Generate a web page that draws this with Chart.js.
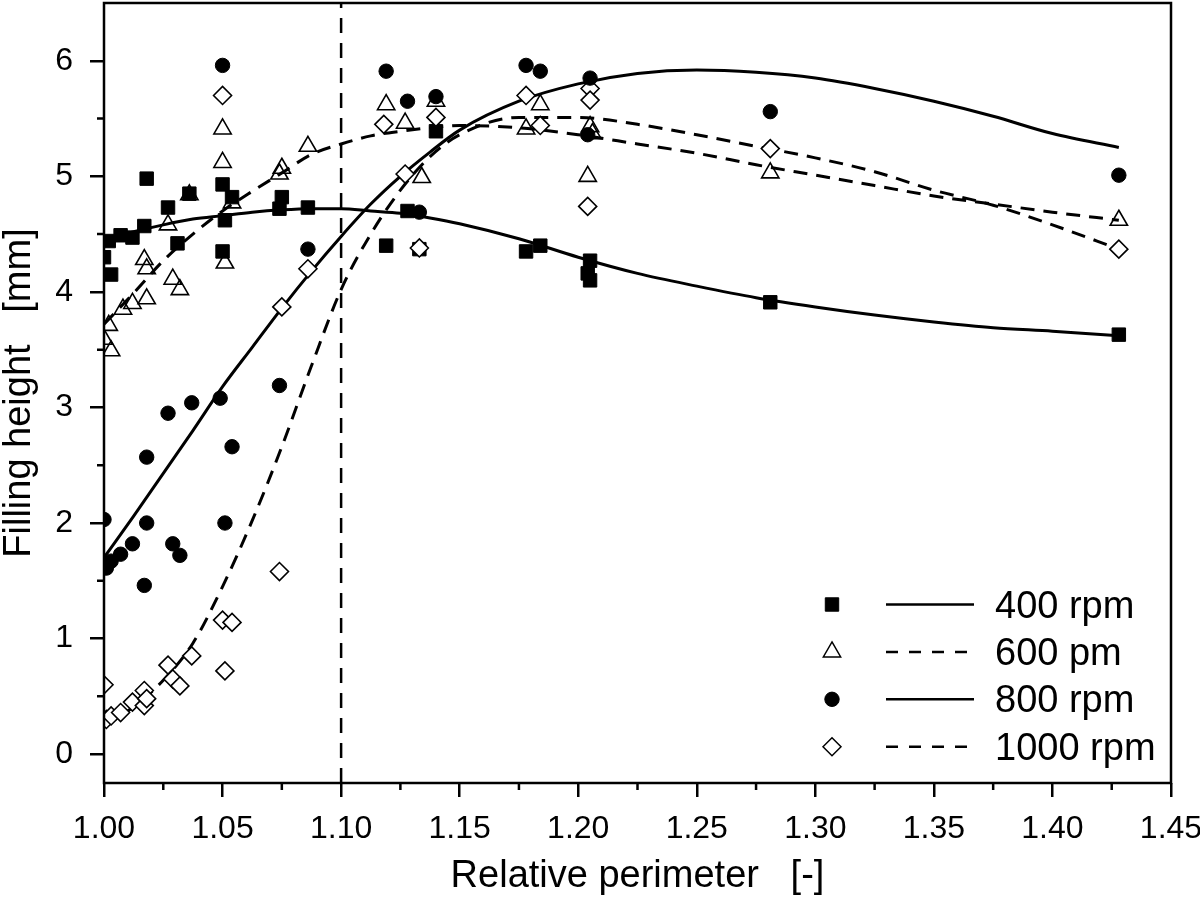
<!DOCTYPE html>
<html>
<head>
<meta charset="utf-8">
<script src="https://cdn.jsdelivr.net/npm/chart.js@4.4.1/dist/chart.umd.min.js"></script>
<style>
  html, body { margin: 0; padding: 0; background: #fff; }
  #chart { display: block; }
</style>
</head>
<body>
<canvas id="chart" width="1200" height="911"></canvas>
<script>
// measured filling heights [mm] against relative perimeter [-]
const rpm400X = [1.000, 1.002, 1.003, 1.007, 1.012, 1.017, 1.018, 1.027, 1.031, 1.036, 1.050, 1.050, 1.051, 1.054, 1.074, 1.075, 1.086, 1.119, 1.128, 1.133, 1.140, 1.178, 1.184, 1.204, 1.205, 1.205, 1.281, 1.428];
const rpm400Y = [4.30, 4.44, 4.15, 4.49, 4.47, 4.57, 4.98, 4.73, 4.42, 4.85, 4.93, 4.35, 4.62, 4.82, 4.72, 4.82, 4.73, 4.40, 4.70, 4.37, 5.39, 4.35, 4.40, 4.16, 4.27, 4.10, 3.91, 3.63];

const rpm600X = [1.000, 1.002, 1.003, 1.008, 1.012, 1.017, 1.018, 1.018, 1.027, 1.029, 1.032, 1.036, 1.050, 1.050, 1.051, 1.054, 1.074, 1.075, 1.086, 1.119, 1.127, 1.134, 1.140, 1.178, 1.184, 1.204, 1.205, 1.206, 1.281, 1.428];
const rpm600Y = [3.59, 3.71, 3.49, 3.85, 3.90, 4.28, 4.20, 3.94, 4.58, 4.11, 4.02, 4.84, 5.41, 5.12, 4.25, 4.77, 5.02, 5.07, 5.26, 5.62, 5.46, 4.99, 5.65, 5.41, 5.62, 5.00, 5.43, 5.37, 5.03, 4.62];

const rpm800X = [1.000, 1.001, 1.003, 1.007, 1.012, 1.017, 1.018, 1.018, 1.027, 1.029, 1.032, 1.037, 1.049, 1.050, 1.051, 1.054, 1.074, 1.086, 1.119, 1.128, 1.133, 1.140, 1.178, 1.184, 1.204, 1.205, 1.281, 1.428];
const rpm800Y = [2.03, 1.61, 1.67, 1.73, 1.82, 1.46, 2.57, 2.00, 2.95, 1.82, 1.72, 3.04, 3.08, 5.96, 2.00, 2.66, 3.19, 4.37, 5.91, 5.65, 4.69, 5.69, 5.96, 5.91, 5.36, 5.85, 5.56, 5.01];

const rpm1000X = [1.000, 1.001, 1.003, 1.007, 1.012, 1.017, 1.017, 1.018, 1.027, 1.029, 1.032, 1.037, 1.050, 1.050, 1.051, 1.054, 1.074, 1.075, 1.086, 1.118, 1.127, 1.133, 1.140, 1.178, 1.184, 1.204, 1.205, 1.205, 1.281, 1.428];
const rpm1000Y = [0.60, 0.30, 0.33, 0.36, 0.45, 0.55, 0.42, 0.48, 0.77, 0.65, 0.59, 0.85, 1.16, 5.70, 0.72, 1.14, 1.58, 3.87, 4.20, 5.45, 5.02, 4.38, 5.51, 5.70, 5.44, 4.74, 5.76, 5.66, 5.24, 4.37];

// fitted curves
const fitX = [1.00, 1.0125, 1.025, 1.0375, 1.05, 1.0625, 1.075, 1.0875, 1.10, 1.1125, 1.125, 1.1375, 1.15, 1.175, 1.20, 1.225, 1.25, 1.275, 1.30, 1.325, 1.35, 1.375, 1.40, 1.428];
const fit400Y = [4.45, 4.52, 4.58, 4.63, 4.66, 4.69, 4.71, 4.72, 4.72, 4.70, 4.68, 4.64, 4.59, 4.46, 4.30, 4.16, 4.05, 3.95, 3.87, 3.80, 3.74, 3.69, 3.66, 3.62];
const fit600Y = [3.72, 3.99, 4.27, 4.50, 4.70, 4.87, 5.03, 5.19, 5.28, 5.35, 5.39, 5.42, 5.44, 5.42, 5.36, 5.28, 5.20, 5.10, 5.01, 4.92, 4.83, 4.76, 4.69, 4.62];
const fit800Y = [1.70, 2.06, 2.43, 2.80, 3.18, 3.52, 3.86, 4.18, 4.48, 4.76, 5.00, 5.21, 5.40, 5.65, 5.80, 5.89, 5.92, 5.90, 5.85, 5.76, 5.65, 5.52, 5.37, 5.25];
const fit1000Y = [0.24, 0.41, 0.64, 0.96, 1.45, 2.02, 2.66, 3.36, 4.02, 4.50, 4.88, 5.17, 5.36, 5.51, 5.51, 5.45, 5.36, 5.26, 5.16, 5.04, 4.88, 4.75, 4.58, 4.37];

const xTicks = [1.00, 1.05, 1.10, 1.15, 1.20, 1.25, 1.30, 1.35, 1.40, 1.45];
const yTicks = [0, 1, 2, 3, 4, 5, 6];
const xMin = 1.00, xMax = 1.45, yMin = -0.25, yMax = 6.5;
const limitX = 1.10;

const FONT = "'Liberation Sans', Arial, sans-serif";
const DASH = [14, 9];

const series = [
  { label: '400 rpm', xs: rpm400X, ys: rpm400Y, fit: fit400Y, style: 'rect', r: 9.5, filled: true, dash: [], order: 4 },
  { label: '600 pm', xs: rpm600X, ys: rpm600Y, fit: fit600Y, style: 'triangle', r: 10, filled: false, dash: DASH, order: 2 },
  { label: '800 rpm', xs: rpm800X, ys: rpm800Y, fit: fit800Y, style: 'circle', r: 7.2, filled: true, dash: [], order: 1 },
  { label: '1000 rpm', xs: rpm1000X, ys: rpm1000Y, fit: fit1000Y, style: 'rectRot', r: 9, filled: false, dash: DASH, order: 3 }
];

function pointFill(s) {
  if (s.filled) return '#000';
  return s.style === 'triangle' ? 'rgba(255,255,255,0)' : '#fff';
}

const datasets = [];
series.forEach(function(s, k) {
  datasets.push({
    type: 'scatter',
    label: s.label,
    data: s.xs.map(function(x, i) { return { x: x, y: s.ys[i] }; }),
    pointStyle: s.style,
    pointRadius: s.r,
    pointBackgroundColor: pointFill(s),
    pointBorderColor: '#000',
    pointBorderWidth: s.filled ? 1 : 1.6,
    clip: 0,
    order: s.order
  });
  datasets.push({
    type: 'line',
    label: s.label + ' fit',
    data: fitX.map(function(x, i) { return { x: x, y: s.fit[i] }; }),
    borderColor: '#000',
    borderWidth: 3,
    borderDash: s.dash,
    pointRadius: 0,
    fill: false,
    cubicInterpolationMode: 'monotone',
    clip: 0,
    order: 10 + k
  });
});
datasets.push({
  type: 'line',
  label: 'limit',
  data: [{ x: limitX, y: yMin }, { x: limitX, y: yMax }],
  borderColor: '#000',
  borderWidth: 2.5,
  borderDash: [15, 10],
  pointRadius: 0,
  fill: false,
  order: 20
});

function drawMarker(ctx, s, x, y) {
  const r = s.r;
  ctx.beginPath();
  if (s.style === 'rect') {
    const h = r * Math.SQRT1_2;
    ctx.rect(x - h, y - h, 2 * h, 2 * h);
  } else if (s.style === 'circle') {
    ctx.arc(x, y, r, 0, Math.PI * 2);
  } else if (s.style === 'triangle') {
    ctx.moveTo(x, y - r);
    ctx.lineTo(x + 0.866 * r, y + 0.5 * r);
    ctx.lineTo(x - 0.866 * r, y + 0.5 * r);
    ctx.closePath();
  } else {
    ctx.moveTo(x - r, y);
    ctx.lineTo(x, y - r);
    ctx.lineTo(x + r, y);
    ctx.lineTo(x, y + r);
    ctx.closePath();
  }
  ctx.fillStyle = s.filled ? '#000' : '#fff';
  ctx.fill();
  ctx.lineWidth = s.filled ? 1 : 1.5;
  ctx.strokeStyle = '#000';
  ctx.stroke();
}

// frame, minor ticks and the marker/line legend
const decorations = {
  id: 'decorations',
  afterDraw: function(chart) {
    const ctx = chart.ctx;
    const a = chart.chartArea;
    const xs = chart.scales.x, ys = chart.scales.y;
    ctx.save();
    ctx.strokeStyle = '#000';
    ctx.lineWidth = 2.5;
    ctx.setLineDash([]);
    ctx.strokeRect(a.left, a.top, a.right - a.left, a.bottom - a.top);

    ctx.beginPath();
    for (let v = xMin + 0.025; v < xMax; v += 0.05) {
      const px = xs.getPixelForValue(v);
      ctx.moveTo(px, a.bottom);
      ctx.lineTo(px, a.bottom + 7);
    }
    for (let v = 0.5; v < yMax; v += 1) {
      const py = ys.getPixelForValue(v);
      ctx.moveTo(a.left, py);
      ctx.lineTo(a.left - 7, py);
    }
    ctx.stroke();

    const rowY0 = 604.5, rowStep = 47.4;
    series.forEach(function(s, i) {
      const y = rowY0 + i * rowStep;
      drawMarker(ctx, s, 832, y);
      ctx.beginPath();
      ctx.setLineDash(s.dash.length ? [12, 11] : []);
      ctx.lineWidth = 2.5;
      ctx.moveTo(886, y);
      ctx.lineTo(974, y);
      ctx.stroke();
      ctx.setLineDash([]);
      ctx.fillStyle = '#000';
      ctx.font = '38px ' + FONT;
      ctx.textAlign = 'left';
      ctx.textBaseline = 'alphabetic';
      ctx.fillText(s.label, 995, y + 13);
    });
    ctx.restore();
  }
};

Chart.defaults.font.family = FONT;
Chart.defaults.color = '#000';

new Chart(document.getElementById('chart'), {
  type: 'scatter',
  data: { datasets: datasets },
  options: {
    responsive: false,
    animation: false,
    layout: { autoPadding: false, padding: { top: 3, right: 29, left: 0, bottom: 0 } },
    plugins: { legend: { display: false }, tooltip: { enabled: false } },
    scales: {
      x: {
        type: 'linear',
        min: xMin,
        max: xMax,
        afterBuildTicks: function(scale) { scale.ticks = xTicks.map(function(v) { return { value: v }; }); },
        afterFit: function(scale) { scale.height = 128; scale.paddingLeft = 0; scale.paddingRight = 0; },
        ticks: {
          font: { size: 32 },
          padding: 13,
          maxRotation: 0,
          autoSkip: false,
          callback: function(v) { return Number(v).toFixed(2); }
        },
        grid: { display: true, drawOnChartArea: false, drawTicks: true, tickLength: 14, color: '#000', lineWidth: 2.5 },
        border: { display: false },
        title: { display: true, text: 'Relative perimeter   [-]', font: { size: 38, lineHeight: 1 }, padding: { top: 0, bottom: 15 } }
      },
      y: {
        type: 'linear',
        min: yMin,
        max: yMax,
        afterBuildTicks: function(scale) { scale.ticks = yTicks.map(function(v) { return { value: v }; }); },
        afterFit: function(scale) { scale.width = 104; scale.paddingTop = 0; scale.paddingBottom = 0; },
        ticks: {
          font: { size: 32 },
          padding: 17,
          autoSkip: false,
          callback: function(v) { return String(v); }
        },
        grid: { display: true, drawOnChartArea: false, drawTicks: true, tickLength: 14, color: '#000', lineWidth: 2.5 },
        border: { display: false },
        title: { display: true, text: 'Filling height   [mm]', font: { size: 38, lineHeight: 1 }, padding: { top: 1, bottom: 0 } }
      }
    }
  },
  plugins: [decorations]
});
</script>
</body>
</html>
